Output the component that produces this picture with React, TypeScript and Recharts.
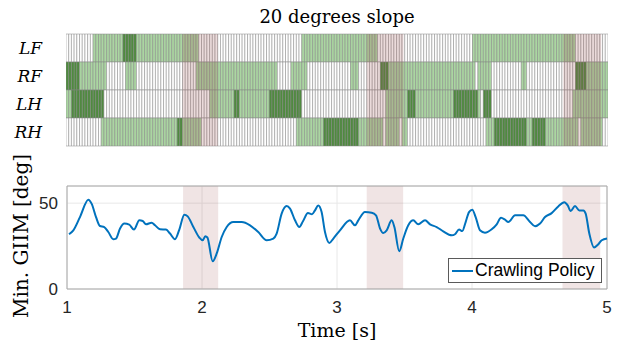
import React from 'react';
import {
  BarChart,
  Bar,
  Cell,
  XAxis,
  YAxis,
  ReferenceArea,
  LineChart,
  Line,
  CartesianGrid,
  Legend,
} from 'recharts';

// ---------------- data ----------------
const TITLE = '20 degrees slope';
const LEGS = ['LF', 'RF', 'LH', 'RH'];
const N_CELLS = 200;
const DT = 0.02;
const T0 = 1;

// contact segments per leg: [firstCell, endCell (exclusive), state]; state 1 = light, 2 = dark
const LF_SEGMENTS = [
  [10, 21, 1], [21, 26, 2], [26, 49, 1], [87, 115, 1], [150, 188, 1],
];
const RF_SEGMENTS = [
  [0, 5, 2], [5, 15, 1], [22, 26, 1], [48, 78, 1], [83, 89, 1], [105, 108, 1],
  [116, 119, 2], [119, 151, 1], [152, 157, 1], [168, 170, 1], [188, 192, 2], [192, 200, 1],
];
const LH_SEGMENTS = [
  [0, 2, 1], [2, 14, 2], [53, 62, 1], [62, 64, 2], [64, 75, 1], [75, 87, 2],
  [118, 126, 1], [126, 129, 2], [129, 143, 1], [143, 152, 2], [152, 153, 1],
  [154, 157, 2], [187, 200, 1],
];
const RH_SEGMENTS = [
  [13, 41, 1], [41, 43, 2], [43, 50, 1], [85, 95, 1], [95, 108, 2], [108, 117, 1],
  [118, 123, 1], [124, 126, 1], [155, 158, 1], [158, 170, 2], [170, 172, 1],
  [172, 177, 2], [177, 189, 1], [190, 198, 1],
];

// highlighted time windows [s]
const WINDOW_START = [1.86, 3.22, 4.67];
const WINDOW_END = [2.12, 3.49, 4.95];

const TIME = [
  1.015, 1.047, 1.096, 1.158, 1.183, 1.215, 1.244, 1.276, 1.306, 1.343, 1.363, 1.393,
  1.425, 1.461, 1.496, 1.536, 1.561, 1.585, 1.627, 1.652, 1.689, 1.733, 1.763, 1.8,
  1.832, 1.869, 1.894, 1.936, 1.98, 2.005, 2.024, 2.04, 2.079, 2.109, 2.146, 2.183,
  2.232, 2.294, 2.356, 2.417, 2.479, 2.528, 2.553, 2.59, 2.627, 2.652, 2.689, 2.721,
  2.748, 2.785, 2.815, 2.837, 2.861, 2.886, 2.911, 2.943, 2.973, 3.022, 3.096, 3.133,
  3.158, 3.207, 3.257, 3.289, 3.319, 3.343, 3.368, 3.405, 3.425, 3.461, 3.491, 3.528,
  3.565, 3.602, 3.652, 3.689, 3.738, 3.787, 3.85, 3.874, 3.904, 3.928, 3.953, 3.978,
  4.002, 4.027, 4.059, 4.096, 4.146, 4.183, 4.215, 4.244, 4.269, 4.319, 4.38, 4.43,
  4.467, 4.504, 4.541, 4.59, 4.639, 4.684, 4.709, 4.731, 4.763, 4.795, 4.825, 4.842,
  4.869, 4.904, 4.936, 4.961, 5.0,
];
const GIIM = [
  31.9, 34.2, 41.9, 52.0, 49.6, 41.9, 36.7, 36.1, 33.2, 29.0, 29.4, 35.2,
  38.1, 37.5, 34.6, 40.0, 39.6, 37.7, 38.6, 37.1, 34.8, 34.6, 32.3, 29.0,
  34.6, 43.3, 42.3, 36.1, 30.0, 28.4, 30.7, 30.0, 16.2, 20.7, 30.3, 36.1,
  39.0, 39.0, 37.1, 33.2, 28.4, 29.4, 32.3, 43.9, 48.3, 46.8, 40.0, 36.1,
  39.5, 44.3, 43.6, 45.8, 48.7, 44.8, 33.2, 26.8, 29.4, 34.2, 40.0, 37.1,
  40.0, 44.8, 44.4, 42.9, 35.2, 32.6, 34.2, 40.0, 36.1, 22.0, 29.4, 37.1,
  40.0, 37.7, 40.0, 37.7, 36.1, 33.6, 31.3, 31.9, 34.6, 33.8, 39.0, 44.8,
  46.2, 41.9, 34.2, 32.8, 34.8, 37.7, 41.5, 40.4, 39.0, 42.9, 42.9, 39.0,
  36.5, 38.1, 41.9, 44.2, 48.1, 50.6, 48.7, 45.4, 48.3, 45.8, 45.8, 43.9,
  32.3, 24.2, 26.1, 28.4, 29.4,
];
const X_TICKS = [1, 2, 3, 4, 5];
const Y_TICKS = [0, 50];
const Y_DOMAIN = [0, 60];
const SERIES_NAME = 'Crawling Policy';
const X_LABEL = 'Time [s]';
const Y_LABEL = 'Min. GIIM [deg]';

// ---------------- styles ----------------
const STATE_COLORS = ['#ffffff', '#abd6a2', '#4f8a3f'];
const CELL_EDGE = '#858585';
const WINDOW_FILL = '#9c4a4a';
const WINDOW_OPACITY = 0.15;
const GAIT_WINDOW_OPACITY = 0.2;
const LINE_COLOR = '#0072bd';
const SERIF = '"DejaVu Serif", serif';
const SANS = '"Liberation Sans", Arial, sans-serif';

// ---------------- derived tables ----------------
const LEG_SEGMENTS = [LF_SEGMENTS, RF_SEGMENTS, LH_SEGMENTS, RH_SEGMENTS];
const ROW_STATES = LEG_SEGMENTS.map((segs) => {
  const s = new Array(N_CELLS).fill(0);
  segs.forEach(([a, b, st]) => {
    for (let i = a; i < b; i++) s[i] = st;
  });
  return s;
});
const CELL_KEYS = Array.from({ length: N_CELLS }, (_, i) => 'c' + i);
const gaitData = LEGS.map((leg) => {
  const row: Record<string, any> = { leg, base: T0 };
  CELL_KEYS.forEach((k) => {
    row[k] = DT;
  });
  return row;
});
const T_END = T0 + N_CELLS * DT;
const lineData = TIME.map((t, i) => ({ t, v: GIIM[i] }));

const renderLegend = () => (
  <div
    style={{
      width: 154,
      height: 25,
      boxSizing: 'border-box',
      border: '1px solid #5a5a5a',
      background: '#fff',
      display: 'flex',
      alignItems: 'center',
      fontFamily: SANS,
      fontSize: 17.5,
      color: '#000',
      whiteSpace: 'nowrap',
    }}
  >
    <svg width={25} height={20} style={{ flex: 'none' }}>
      <line x1={3} y1={10} x2={24} y2={10} stroke={LINE_COLOR} strokeWidth={2} />
    </svg>
    <span style={{ marginLeft: 1 }}>{SERIES_NAME}</span>
  </div>
);

export default function App() {
  return (
    <div
      style={{
        position: 'absolute',
        left: 0,
        top: 0,
        width: 624,
        height: 347,
        background: '#fff',
        overflow: 'hidden',
      }}
    >
      <div
        style={{
          position: 'absolute',
          left: 66,
          top: 6,
          width: 542,
          textAlign: 'center',
          fontFamily: SERIF,
          fontSize: 18,
          lineHeight: '22px',
          color: '#000',
        }}
      >
        {TITLE}
      </div>

      <div style={{ position: 'absolute', left: 0, top: 0 }}>
        <BarChart
          width={624}
          height={160}
          data={gaitData}
          layout="vertical"
          margin={{ top: 34, right: 16, bottom: 14, left: 0 }}
          barCategoryGap={0}
          barGap={0}
        >
          <XAxis type="number" domain={[T0, T_END]} allowDataOverflow hide />
          <YAxis
            type="category"
            dataKey="leg"
            width={66}
            axisLine={false}
            tickLine={false}
            tickMargin={18}
            tick={{ fontFamily: SERIF, fontStyle: 'italic', fontSize: 17, fill: '#000' }}
          />
          <Bar dataKey="base" stackId="g" fill="none" stroke="none" isAnimationActive={false} />
          {CELL_KEYS.map((k, i) => (
            <Bar
              key={k}
              dataKey={k}
              stackId="g"
              stroke={CELL_EDGE}
              strokeWidth={0.5}
              isAnimationActive={false}
            >
              {ROW_STATES.map((s, r) => (
                <Cell key={r} fill={STATE_COLORS[s[i]]} />
              ))}
            </Bar>
          ))}
          {WINDOW_START.map((x1, i) => (
            <ReferenceArea
              key={i}
              x1={x1}
              x2={WINDOW_END[i]}
              fill={WINDOW_FILL}
              fillOpacity={GAIT_WINDOW_OPACITY}
              stroke="none"
              zIndex={1500}
              ifOverflow="visible"
            />
          ))}
        </BarChart>
      </div>

      <div style={{ position: 'absolute', left: 0, top: 160 }}>
        <LineChart
          width={624}
          height={187}
          data={lineData}
          margin={{ top: 26, right: 17, bottom: 28, left: 0 }}
        >
          <CartesianGrid stroke="#e8e8e8" strokeWidth={1} />
          {WINDOW_START.map((x1, i) => (
            <ReferenceArea
              key={i}
              x1={x1}
              x2={WINDOW_END[i]}
              y1={Y_DOMAIN[0]}
              y2={Y_DOMAIN[1]}
              fill={WINDOW_FILL}
              fillOpacity={WINDOW_OPACITY}
              stroke="none"
            />
          ))}
          <XAxis
            type="number"
            dataKey="t"
            domain={[1, 5]}
            ticks={X_TICKS}
            height={30}
            axisLine={false}
            tickLine={false}
            tickSize={6}
            tickMargin={6}
            tick={{ fontFamily: SANS, fontSize: 17, fill: '#262626' }}
          />
          <YAxis
            type="number"
            domain={Y_DOMAIN}
            ticks={Y_TICKS}
            width={67}
            axisLine={false}
            tickLine={false}
            tickSize={6}
            tickMargin={3}
            tick={{ fontFamily: SANS, fontSize: 17, fill: '#262626' }}
          />
          <ReferenceArea
            x1={1}
            x2={5}
            y1={Y_DOMAIN[0]}
            y2={Y_DOMAIN[1]}
            fill="none"
            stroke="#a8a8a8"
            strokeWidth={1}
          />
          <Line
            type="monotone"
            dataKey="v"
            name={SERIES_NAME}
            stroke={LINE_COLOR}
            strokeWidth={2}
            dot={false}
            isAnimationActive={false}
          />
          <Legend
            content={renderLegend}
            layout="horizontal"
            verticalAlign="middle"
            align="center"
            wrapperStyle={{ left: 448, top: 98, width: 154, height: 25 }}
          />
        </LineChart>
      </div>

      <div
        style={{
          position: 'absolute',
          left: 237,
          top: 318,
          width: 200,
          textAlign: 'center',
          fontFamily: SERIF,
          fontSize: 19,
          lineHeight: '24px',
          color: '#000',
        }}
      >
        {X_LABEL}
      </div>
      <div
        style={{
          position: 'absolute',
          left: 21,
          top: 236,
          width: 0,
          height: 0,
        }}
      >
        <div
          style={{
            position: 'absolute',
            left: -100,
            top: -12,
            width: 200,
            textAlign: 'center',
            fontFamily: SERIF,
            fontSize: 20,
            lineHeight: '24px',
            color: '#000',
            transform: 'rotate(-90deg)',
            whiteSpace: 'nowrap',
          }}
        >
          {Y_LABEL}
        </div>
      </div>
    </div>
  );
}
